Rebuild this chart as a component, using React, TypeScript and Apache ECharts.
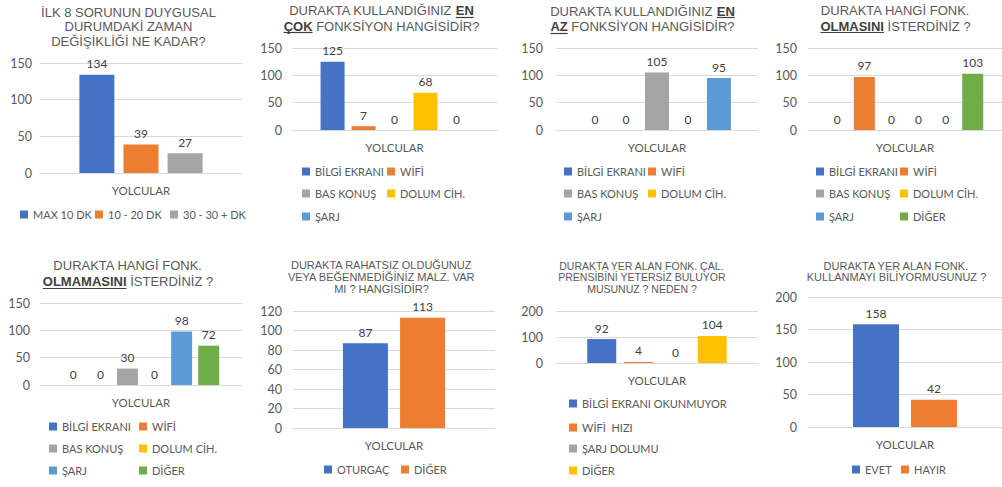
import React, { useEffect, useRef } from "react";
import * as echarts from "echarts";

// ---------- DATA ----------
const CATEGORY = ["YOLCULAR"];

const P1_NAMES = ["MAX 10 DK", "10 - 20 DK", "30 - 30 + DK"];
const P1_VALUES = [134, 39, 27];

const FUNC_NAMES = ["BİLGİ EKRANI", "WİFİ", "BAS KONUŞ", "DOLUM CİH.", "ŞARJ"];
const P2_VALUES = [125, 7, 0, 68, 0];
const P3_VALUES = [0, 0, 105, 0, 95];

const FUNC_NAMES_6 = ["BİLGİ EKRANI", "WİFİ", "BAS KONUŞ", "DOLUM CİH.", "ŞARJ", "DİĞER"];
const P4_VALUES = [0, 97, 0, 0, 0, 103];
const P5_VALUES = [0, 0, 30, 0, 98, 72];

const P6_NAMES = ["OTURGAÇ", "DİĞER"];
const P6_VALUES = [87, 113];

const P7_NAMES = ["BİLGİ EKRANI OKUNMUYOR", "WİFİ  HIZI", "ŞARJ DOLUMU", "DİĞER"];
const P7_VALUES = [92, 4, 0, 104];

const P8_NAMES = ["EVET", "HAYIR"];
const P8_VALUES = [158, 42];

const Y_MAX = [150, 150, 150, 150, 150, 120, 200, 200];
const Y_STEP = [50, 50, 50, 50, 50, 20, 100, 50];

// underlined bold words are wrapped in _..._
const TITLES = [
  ["İLK 8 SORUNUN DUYGUSAL", "DURUMDAKİ ZAMAN", "DEĞİŞİKLİĞİ NE KADAR?"],
  ["DURAKTA KULLANDIĞINIZ _EN_", "_ÇOK_ FONKSİYON HANGİSİDİR?"],
  ["DURAKTA KULLANDIĞINIZ _EN_", "_AZ_ FONKSİYON HANGİSİDİR?"],
  ["DURAKTA HANGİ FONK.", "_OLMASINI_ İSTERDİNİZ ?"],
  ["DURAKTA HANGİ FONK.", "_OLMAMASINI_ İSTERDİNİZ ?"],
  ["DURAKTA RAHATSIZ OLDUĞUNUZ", "VEYA BEĞENMEDİĞİNİZ MALZ. VAR", "MI ? HANGİSİDİR?"],
  ["DURAKTA YER ALAN FONK. ÇAL.", "PRENSİBİNİ YETERSİZ BULUYOR", "MUSUNUZ ? NEDEN ?"],
  ["DURAKTA YER ALAN FONK.", "KULLANMAYI BİLİYORMUSUNUZ ?"],
];

// ---------- STYLE ----------
const BLUE = "#4472C4";
const ORANGE = "#ED7D31";
const GRAY = "#A5A5A5";
const YELLOW = "#FFC000";
const LBLUE = "#5B9BD5";
const GREEN = "#70AD47";
const FUNC_COLORS = [BLUE, ORANGE, GRAY, YELLOW, LBLUE, GREEN];

const TITLE_FONT = "'Liberation Sans', Arial, sans-serif";
const LABEL_FONT = "Lato, 'Liberation Sans', sans-serif";
const TEXT_COLOR = "#595959";
const GRID_COLOR = "#D9D9D9";

type Panel = {
  names: string[];
  values: number[];
  colors: string[];
  grid: { left: number; top: number; width: number; height: number };
  barWidth: number;
  barGap: string;
  yLabelMargin: number;
  title: { cx: number; y0: number; lh: number; fs: number };
  legend: number[][];
};

const PANELS: Panel[] = [
  {
    names: P1_NAMES, values: P1_VALUES, colors: [BLUE, ORANGE, GRAY],
    grid: { left: 40, top: 63, width: 202, height: 110 }, barWidth: 35, barGap: "26%", yLabelMargin: 8,
    title: { cx: 128.5, y0: 12.2, lh: 14.5, fs: 13 },
    legend: [[21, 215], [96, 215], [171, 215]],
  },
  {
    names: FUNC_NAMES, values: P2_VALUES, colors: FUNC_COLORS,
    grid: { left: 292, top: 48, width: 205, height: 82 }, barWidth: 24, barGap: "29%", yLabelMargin: 10,
    title: { cx: 381.5, y0: 10.6, lh: 15.6, fs: 13 },
    legend: [[303, 172], [388, 172], [303, 194], [388, 194], [303, 217]],
  },
  {
    names: FUNC_NAMES, values: P3_VALUES, colors: FUNC_COLORS,
    grid: { left: 556, top: 48, width: 202, height: 82 }, barWidth: 24, barGap: "29%", yLabelMargin: 13,
    title: { cx: 642.5, y0: 11, lh: 15.6, fs: 13 },
    legend: [[565, 172], [649, 172], [565, 194], [649, 194], [565, 217]],
  },
  {
    names: FUNC_NAMES_6, values: P4_VALUES, colors: FUNC_COLORS,
    grid: { left: 808, top: 48, width: 202, height: 82 }, barWidth: 21, barGap: "29%", yLabelMargin: 11,
    title: { cx: 895.5, y0: 10.6, lh: 15.6, fs: 13 },
    legend: [[817, 172], [901, 172], [817, 194], [901, 194], [817, 217], [901, 217]],
  },
  {
    names: FUNC_NAMES_6, values: P5_VALUES, colors: FUNC_COLORS,
    grid: { left: 40, top: 303, width: 202, height: 82 }, barWidth: 21, barGap: "29%", yLabelMargin: 10,
    title: { cx: 128, y0: 265.8, lh: 15.9, fs: 13 },
    legend: [[50, 427], [140, 427], [50, 449], [140, 449], [50, 471], [140, 471]],
  },
  {
    names: P6_NAMES, values: P6_VALUES, colors: [BLUE, ORANGE],
    grid: { left: 293, top: 311, width: 202, height: 117 }, barWidth: 45, barGap: "27%", yLabelMargin: 11,
    title: { cx: 381.5, y0: 265, lh: 11.8, fs: 11 },
    legend: [[325, 470], [402, 470]],
  },
  {
    names: P7_NAMES, values: P7_VALUES, colors: [BLUE, ORANGE, GRAY, YELLOW],
    grid: { left: 556, top: 311, width: 202, height: 52 }, barWidth: 29, barGap: "27%", yLabelMargin: 13,
    title: { cx: 642, y0: 265.5, lh: 11.8, fs: 10.5 },
    legend: [[570, 404], [570, 428], [570, 449], [570, 471]],
  },
  {
    names: P8_NAMES, values: P8_VALUES, colors: [BLUE, ORANGE],
    grid: { left: 808, top: 297, width: 202, height: 130 }, barWidth: 46, barGap: "26%", yLabelMargin: 11,
    title: { cx: 896.5, y0: 265.5, lh: 11.8, fs: 11 },
    legend: [[853, 470], [902, 470]],
  },
];

function measure(text: string, fs: number, bold: boolean): number {
  const t = new echarts.graphic.Text({
    style: { text, fontSize: fs, fontFamily: TITLE_FONT, fontWeight: bold ? "bold" : "normal" },
  });
  return t.getBoundingRect().width;
}

function buildTitleGraphics(): any[] {
  const els: any[] = [];
  PANELS.forEach((p, i) => {
    const { cx, y0, lh, fs } = p.title;
    TITLES[i].forEach((line, li) => {
      const y = y0 + li * lh;
      const segs = line.split("_").map((t, k) => ({ t, b: k % 2 === 1 })).filter((s) => s.t.length > 0);
      const widths = segs.map((s) => measure(s.t, fs, s.b));
      const total = widths.reduce((a, b) => a + b, 0);
      let cursor = cx - total / 2;
      segs.forEach((s, k) => {
        const lead = s.t.length - s.t.replace(/^\s+/, "").length;
        const core = s.t.trim();
        const xCore = cursor + (lead > 0 ? measure(s.t.slice(0, lead), fs, s.b) : 0);
        const coreW = measure(core, fs, s.b);
        els.push({
          type: "text",
          x: xCore,
          y,
          silent: true,
          style: {
            text: core,
            fontSize: fs,
            fontFamily: TITLE_FONT,
            fontWeight: s.b ? "bold" : "normal",
            fill: s.b ? "#404040" : TEXT_COLOR,
            align: "left",
            verticalAlign: "middle",
          },
        });
        if (s.b) {
          const uy = Math.round(y + fs * 0.48) + 0.5;
          els.push({
            type: "line",
            silent: true,
            shape: { x1: xCore, y1: uy, x2: xCore + coreW, y2: uy },
            style: { stroke: "#404040", lineWidth: 1.2 },
          });
        }
        cursor += widths[k];
      });
    });
  });
  return els;
}

function buildOption(): any {
  const grid = PANELS.map((p) => ({ ...p.grid, containLabel: false }));
  const xAxis = PANELS.map((p, i) => ({
    type: "category",
    gridIndex: i,
    data: CATEGORY,
    axisLine: { show: true, lineStyle: { color: GRID_COLOR, width: 1 } },
    axisTick: { show: false },
    axisLabel: { color: TEXT_COLOR, fontSize: 11.5, fontFamily: LABEL_FONT, margin: 11 },
  }));
  const yAxis = PANELS.map((p, i) => ({
    type: "value",
    gridIndex: i,
    min: 0,
    max: Y_MAX[i],
    interval: Y_STEP[i],
    axisLine: { show: false },
    axisTick: { show: false },
    axisLabel: { color: TEXT_COLOR, fontSize: 12.5, fontFamily: LABEL_FONT, margin: p.yLabelMargin },
    splitLine: { show: true, lineStyle: { color: GRID_COLOR, width: 1 } },
  }));
  const series: any[] = [];
  const legend: any[] = [];
  PANELS.forEach((p, i) => {
    p.names.forEach((name, j) => {
      series.push({
        type: "bar",
        name,
        xAxisIndex: i,
        yAxisIndex: i,
        data: [p.values[j]],
        barWidth: p.barWidth,
        barGap: p.barGap,
        itemStyle: { color: p.colors[j] },
        label: {
          show: true,
          position: "top",
          distance: 5,
          color: "#404040",
          fontSize: 12,
          fontFamily: LABEL_FONT,
        },
      });
      const pos = p.legend[j];
      legend.push({
        left: pos[0] - 1,
        top: pos[1] - 6,
        padding: 0,
        icon: "rect",
        itemWidth: 8,
        itemHeight: 8,
        selectedMode: false,
        data: [{ name, itemStyle: { color: p.colors[j] } }],
        textStyle: { color: TEXT_COLOR, fontSize: 11, fontFamily: LABEL_FONT },
      });
    });
  });
  return {
    animation: false,
    backgroundColor: "#ffffff",
    grid,
    xAxis,
    yAxis,
    legend,
    series,
    graphic: { elements: buildTitleGraphics() },
  };
}

export default function App() {
  const ref = useRef<HTMLDivElement>(null);
  useEffect(() => {
    if (!ref.current) return;
    const chart = echarts.init(ref.current, undefined, { renderer: "svg" });
    chart.setOption(buildOption());
    return () => chart.dispose();
  }, []);
  return (
    <div
      ref={ref}
      style={{ position: "fixed", left: 0, top: 0, width: 1002, height: 487, overflow: "hidden" }}
    />
  );
}
